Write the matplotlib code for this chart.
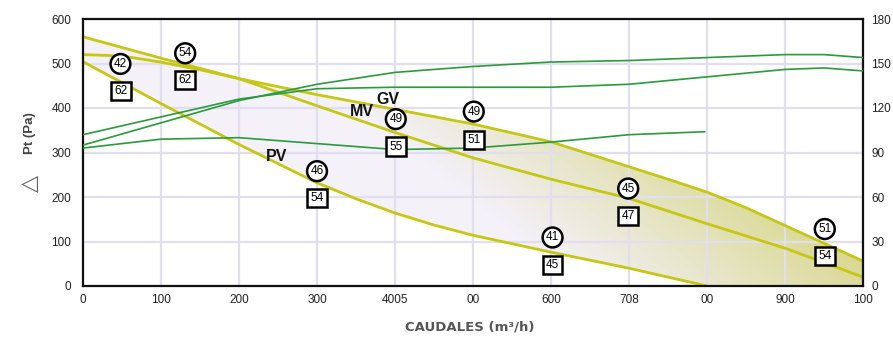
import numpy as np
import matplotlib
matplotlib.use('Agg')
import matplotlib.pyplot as plt
from matplotlib.patches import Polygon

plt.rcParams['font.family'] = ['Liberation Sans', 'DejaVu Sans']

# caudal (m3/h) ticks and their (odd) labels as printed
x_ticks = [0, 100, 200, 300, 400, 500, 600, 700, 800, 900, 1000]
x_tick_labels = ['0', '100', '200', '300', '4005', '00', '600', '708', '00', '900', '100']
y_ticks = [0, 100, 200, 300, 400, 500, 600]
y2_ticks = [0, 30, 60, 90, 120, 150, 180]

# pressure curves (Pa)
gv_x = [0, 100, 200, 300, 400, 500, 600, 650, 700, 750, 800, 850, 900, 950, 1000]
gv_y = [560, 512, 466, 430, 397, 364, 324, 296, 268, 240, 211, 176, 136, 96, 56]
mv_x = [0, 50, 100, 150, 200, 300, 400, 500, 600, 700, 800, 900, 1000]
mv_y = [520, 517, 503, 486, 466, 405, 345, 288, 240, 197, 140, 85, 20]
pv_x = [0, 100, 200, 300, 350, 400, 450, 500, 600, 700, 800]
pv_y = [504, 410, 318, 232, 196, 164, 137, 114, 76, 40, 0]

# power curves (right axis)
p1_x = [0, 100, 200, 300, 400, 500, 600, 700, 800, 900, 950, 1000]
p1_y = [95, 110, 125, 136, 144, 148, 151, 152, 154, 156, 156, 154]
p2_x = [0, 100, 200, 300, 400, 500, 600, 700, 800, 900, 950, 1000]
p2_y = [102, 114, 126, 133, 134, 134, 134, 136, 141, 146, 147, 145]
p3_x = [0, 100, 200, 300, 400, 500, 600, 700, 797]
p3_y = [93, 99, 100, 96, 92, 93, 97, 102, 104]

# sound levels: circles and squares
circ_x = [48, 131, 300, 401, 501, 602, 699, 951]
circ_y = [499, 523, 258, 375, 392, 109, 219, 128]
circ_lbl = ['42', '54', '46', '49', '49', '41', '45', '51']
sq_x = [49, 131, 300, 401, 501, 602, 699, 951]
sq_y = [438, 463, 198, 313, 328, 47, 157, 67]
sq_lbl = ['62', '62', '54', '55', '51', '45', '47', '54']

curve_names = ['GV', 'MV', 'PV']
curve_name_x = [391, 357, 248]
curve_name_y = [420, 392, 292]

yellow = '#c5c713'
green = '#2a9a3c'

fig = plt.figure(figsize=(8.93, 3.38), dpi=100)
ax = fig.add_axes([83 / 893, 52 / 338, 780 / 893, 267 / 338])
ax.set_xlim(0, 1000)
ax.set_ylim(0, 600)

# gradient fill between GV and PV
poly_pts = list(zip(gv_x, gv_y)) + [(1000, 0), (800, 0)] + list(zip(pv_x[::-1], pv_y[::-1]))
poly = Polygon(poly_pts, closed=True, facecolor='none', edgecolor='none')
ax.add_patch(poly)
u, v = np.meshgrid(np.linspace(0, 1, 400), np.linspace(0, 1, 240))
t = np.clip(1.85 * (u - 0.64) + 0.8 * v, 0, 1)[..., None]
c0 = np.array([244, 241, 249]) / 255
c1 = np.array([208, 208, 108]) / 255
img = c0 * (1 - t) + c1 * t
im = ax.imshow(img, extent=[0, 1000, 0, 600], origin='lower', aspect='auto', zorder=0.5)
im.set_clip_path(poly)

ax.set_xticks(x_ticks)
ax.set_xticklabels(x_tick_labels)
ax.set_yticks(y_ticks)
ax.grid(True, color='#e1deed', linewidth=1.6, zorder=1)
ax.set_axisbelow(False)
for gl in ax.get_xgridlines() + ax.get_ygridlines():
    gl.set_zorder(1)
ax.tick_params(axis='both', length=0, labelsize=8.5, colors='#222222')
ax.tick_params(axis='y', pad=8.5)
ax.tick_params(axis='x', pad=6)
for s in ax.spines.values():
    s.set_linewidth(1.6)
    s.set_color('#111111')
    s.set_zorder(6)

ax.plot(gv_x, gv_y, color=yellow, lw=2.0, zorder=3, solid_capstyle='butt')
ax.plot(mv_x, mv_y, color=yellow, lw=2.0, zorder=3, solid_capstyle='butt')
ax.plot(pv_x, pv_y, color=yellow, lw=2.0, zorder=3, solid_capstyle='butt')

ax2 = ax.twinx()
ax2.set_ylim(0, 180)
ax2.set_yticks(y2_ticks)
ax2.tick_params(axis='y', length=0, labelsize=8.5, colors='#222222', pad=6)
for s in ax2.spines.values():
    s.set_visible(False)
ax2.plot(p1_x, p1_y, color=green, lw=1.2)
ax2.plot(p2_x, p2_y, color=green, lw=1.2)
ax2.plot(p3_x, p3_y, color=green, lw=1.2)

for x, y, s in zip(circ_x, circ_y, circ_lbl):
    ax2.text(x, y * 0.3, s, ha='center', va='center', fontsize=8.5, zorder=7,
             bbox=dict(boxstyle='circle,pad=0.28', fc='white', ec='black', lw=1.8))
for x, y, s in zip(sq_x, sq_y, sq_lbl):
    ax2.text(x, y * 0.3, s, ha='center', va='center', fontsize=8.5, zorder=7,
             bbox=dict(boxstyle='square,pad=0.28', fc='white', ec='black', lw=1.8))
for x, y, s in zip(curve_name_x, curve_name_y, curve_names):
    ax2.text(x, y * 0.3, s, ha='center', va='center', fontsize=11.5,
             fontweight='bold', color='#111111')

fig.text(470 / 893, 1 - 327 / 338, 'CAUDALES (m³/h)', ha='center', va='center',
         fontsize=9.5, fontweight='bold', color='#555555', family='DejaVu Sans')
fig.text(30 / 893, 1 - 133 / 338, 'Pt (Pa)', ha='center', va='center', rotation=90,
         fontsize=9.5, color='#444444', fontweight='bold')
fig.text(30 / 893, 1 - 183 / 338, '△', ha='center', va='center', rotation=90,
         fontsize=16, color='#666666', family='DejaVu Sans')

fig.savefig('out.png', dpi=100)
